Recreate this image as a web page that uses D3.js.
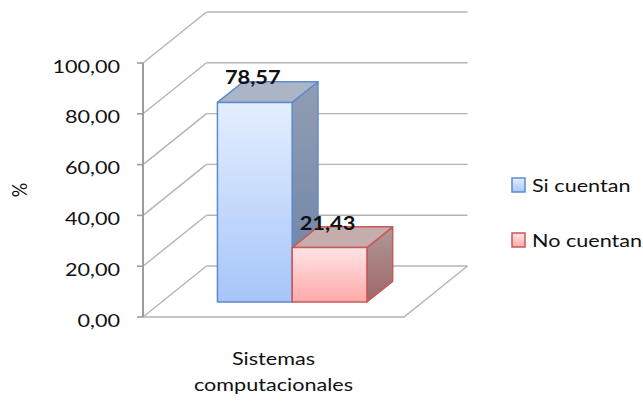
<!DOCTYPE html>
<html>
<head>
<meta charset="utf-8">
<script src="https://cdn.jsdelivr.net/npm/d3@7"></script>
<style>
  html, body { margin: 0; padding: 0; background: #fff; }
  svg { display: block; }
  text { font-family: Lato, "Open Sans", sans-serif; fill: #111; }
</style>
</head>
<body>
<div id="chart"></div>
<script>
// Chart data
const categories = ["Sistemas computacionales"];
const seriesNames = ["Si cuentan", "No cuentan"];
const seriesValues = [78.57, 21.43];
const yTicks = [0, 20, 40, 60, 80, 100];
const yAxisTitle = "%";

const W = 643, H = 403;
const svg = d3.select("#chart").append("svg").attr("width", W).attr("height", H);

// Plot geometry (front plane of the 3D box) and depth vector
const plot = { left: 143, right: 404, top: 63, bottom: 317 };
const DX = 63.5, DY = -51;
const barDepth = [0.294, 0.70];
const textStretch = 1.2;

const y = d3.scaleLinear().domain([0, 100]).range([plot.bottom, plot.top]);
const x = d3.scaleBand().domain(categories).range([plot.left, plot.right]).paddingInner(0).paddingOuter(0.373);
const xs = d3.scaleBand().domain(seriesNames).range([0, x.bandwidth()]).padding(0);

const P = (px, v, d) => [px + d * DX, y(v) + d * DY];
const poly = pts => "M" + pts.map(p => p.join(",")).join("L") + "Z";
const fmt = v => d3.format(".2f")(v).replace(".", ",");

function place(sel, px, py, sx) {
  return sel.attr("transform", `translate(${px},${py}) scale(${sx || textStretch},1)`);
}

// Gradients
const defs = svg.append("defs");
const palettes = {
  "Si cuentan": { front: ["#e4effe", "#a6c5f9"], side: ["#929db2", "#6c82a8"], top: "#abb5c5", stroke: "#5b8bd0" },
  "No cuentan": { front: ["#ffe4e4", "#ffa9a9"], side: ["#b09898", "#9f6666"], top: "#c6adad", stroke: "#c65a58" }
};
seriesNames.forEach((s, i) => {
  const p = palettes[s];
  ["front", "side"].forEach(face => {
    const g = defs.append("linearGradient").attr("id", `g-${face}-${i}`)
      .attr("x1", 0).attr("y1", 0).attr("x2", 0).attr("y2", 1);
    g.append("stop").attr("offset", "0%").attr("stop-color", p[face][0]);
    g.append("stop").attr("offset", "100%").attr("stop-color", p[face][1]);
  });
});

const gridColor = "#b4b4b4";
const walls = svg.append("g").attr("fill", "none").attr("stroke", gridColor).attr("stroke-width", 1.4);

// Back wall gridlines
walls.selectAll(".back").data(yTicks).join("path")
  .attr("d", v => "M" + P(plot.left, v, 1).join(",") + "L" + P(plot.right, v, 1).join(","));

// Side wall diagonals
walls.selectAll(".side").data(yTicks).join("path")
  .attr("d", v => "M" + P(plot.left, v, 0).join(",") + "L" + P(plot.left, v, 1).join(","));

// Floor front and right edges
walls.append("path")
  .attr("d", "M" + P(plot.left, 0, 0).join(",") + "L" + P(plot.right, 0, 0).join(",") + "L" + P(plot.right, 0, 1).join(","));

// Value axis line and ticks
const axisG = svg.append("g");
axisG.append("line")
  .attr("x1", plot.left).attr("x2", plot.left).attr("y1", y(100)).attr("y2", y(0))
  .attr("stroke", "#9c9c9c").attr("stroke-width", 2);
axisG.selectAll(".tick").data(yTicks).join("line")
  .attr("x1", plot.left - 6).attr("x2", plot.left).attr("y1", d => y(d)).attr("y2", d => y(d))
  .attr("stroke", "#9c9c9c").attr("stroke-width", 1.6);
axisG.selectAll(".lbl").data(yTicks).join("text")
  .attr("text-anchor", "end").attr("font-size", 18)
  .each(function (d) { place(d3.select(this), 120, y(d) + 9.5); })
  .text(d => fmt(d));

// Axis title
svg.append("text").attr("font-size", 18).attr("text-anchor", "middle")
  .attr("transform", `translate(27,190) rotate(-90) scale(1,${textStretch})`)
  .text(yAxisTitle);

// Bars (left to right so later faces overlap earlier sides)
const bars = svg.append("g");
categories.forEach(cat => {
  seriesNames.forEach((s, i) => {
    const v = seriesValues[i];
    const x0 = x(cat) + xs(s), x1 = x0 + xs.bandwidth();
    const [d0, d1] = barDepth;
    const p = palettes[s];
    const g = bars.append("g").attr("stroke", p.stroke).attr("stroke-width", 1.5).attr("stroke-linejoin", "round");
    g.append("path").attr("fill", `url(#g-side-${i})`)
      .attr("d", poly([P(x1, 0, d0), P(x1, v, d0), P(x1, v, d1), P(x1, 0, d1)]));
    g.append("path").attr("fill", p.top)
      .attr("d", poly([P(x0, v, d0), P(x1, v, d0), P(x1, v, d1), P(x0, v, d1)]));
    g.append("path").attr("fill", `url(#g-front-${i})`)
      .attr("d", poly([P(x0, 0, d0), P(x1, 0, d0), P(x1, v, d0), P(x0, v, d0)]));
  });
});

// Data labels
categories.forEach(cat => {
  seriesNames.forEach((s, i) => {
    const v = seriesValues[i];
    const x0 = x(cat) + xs(s);
    const [fx, fy] = P(x0 + xs.bandwidth() / 2, v, barDepth[0]);
    const t = svg.append("text").attr("text-anchor", "middle").attr("font-size", 19).attr("font-weight", "bold")
      .text(fmt(v));
    place(t, fx - 2, fy - 18, 1.15);
  });
});

// Category label (wrapped on two lines)
categories.forEach(cat => {
  const words = cat.split(" ");
  const cx = x(cat) + x.bandwidth() / 2;
  words.forEach((w, k) => {
    const t = svg.append("text").attr("text-anchor", "middle").attr("font-size", 18).text(w);
    place(t, cx, 365 + k * 26);
  });
});

// Legend
const legend = svg.append("g");
seriesNames.forEach((s, i) => {
  const ly = 178 + i * 55;
  const p = palettes[s];
  legend.append("rect").attr("x", 512).attr("y", ly).attr("width", 13).attr("height", 14)
    .attr("fill", `url(#g-front-${i})`).attr("stroke", p.stroke).attr("stroke-width", 1.5);
  const t = legend.append("text").attr("font-size", 18).text(s);
  place(t, 532, ly + 13.5);
});
</script>
</body>
</html>
